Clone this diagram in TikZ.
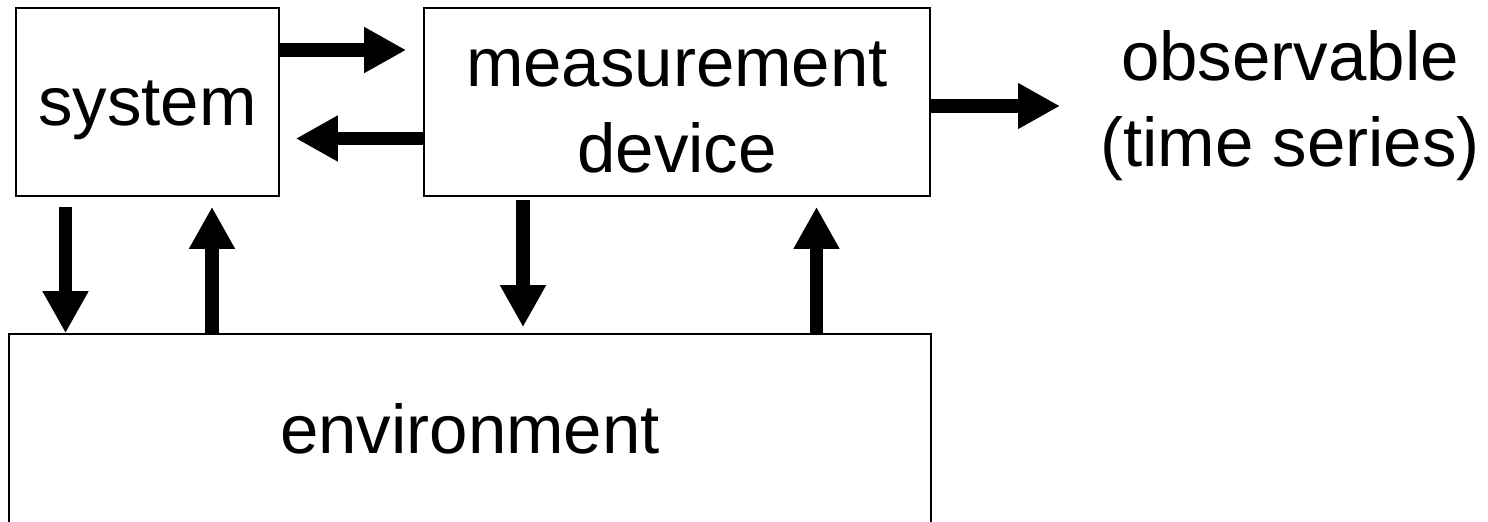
\documentclass[tikz,border=0pt]{standalone}
\usepackage{fontspec}
\setmainfont{Liberation Sans}
\usetikzlibrary{arrows.meta}
\tikzset{
  box/.style={draw=black, line width=0.8pt, rectangle, inner sep=0pt,
    font=\fontsize{34.5}{43}\selectfont},
  txt/.style={inner sep=0pt, align=center, font=\fontsize{34.5}{43}\selectfont},
  arr/.style={line width=6.75pt, -{Triangle[length=21pt,width=21.5pt]}}
}
\begin{document}
\begin{tikzpicture}[x={(0.5pt,0)}, y={(0,-0.5pt)}]
\useasboundingbox (0,0) rectangle (1488,521);
\clip (0,0) rectangle (1488,521);
\node[box, minimum width=131.5pt, minimum height=94pt, text height=23pt, text depth=0pt] (sys) at (147.5,102) {system};
\node[box, align=center, minimum width=253pt, minimum height=94pt] (meas) at (677,102) {\rule{0pt}{28pt}measurement\\device};
\node[box, minimum width=461pt, minimum height=94.5pt] (env) at (470,428.5) {environment};
\node[txt] (obs) at (1290,106) {observable\\(time series)};
\coordinate (obsin) at (1060,106);
% horizontal arrows
\draw[arr] ([yshift=26pt]sys.east) -- ([yshift=26pt,xshift=-8.5pt]meas.west);
\draw[arr] ([yshift=-18.25pt]meas.west) -- ([yshift=-18.25pt,xshift=8pt]sys.east);
\draw[arr] ([yshift=-2pt]meas.east) -- (obsin);
% vertical arrows system <-> environment
\draw[arr] ([xshift=-41pt,yshift=-5pt]sys.south) -- ([xshift=-41pt]sys.south |- env.north);
\draw[arr] ([xshift=32.25pt]sys.south |- env.north) -- ([xshift=32.25pt,yshift=-5pt]sys.south);
% vertical arrows measurement <-> environment
\draw[arr] ([xshift=-77pt,yshift=-1.5pt]meas.south) -- ([xshift=-77pt,yshift=3pt]meas.south |- env.north);
\draw[arr] ([xshift=69.75pt]meas.south |- env.north) -- ([xshift=69.75pt,yshift=-5pt]meas.south);
\end{tikzpicture}
\end{document}
